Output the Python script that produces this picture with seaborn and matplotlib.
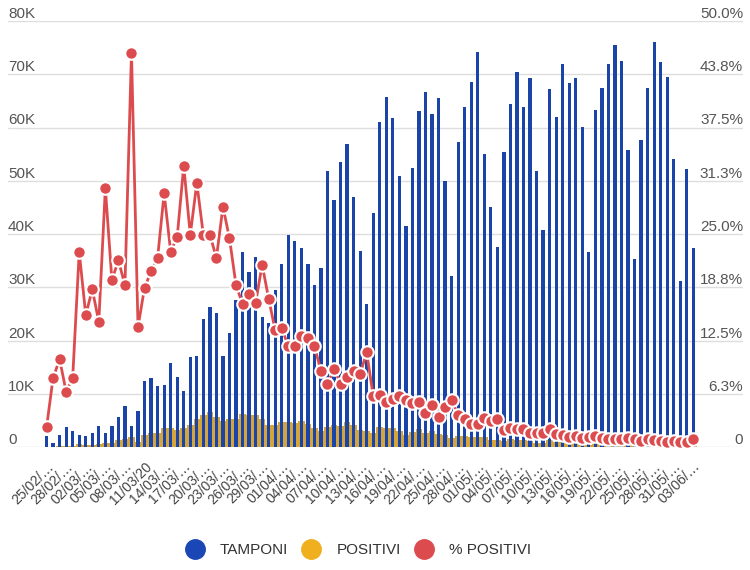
import numpy as np
import pandas as pd
import matplotlib.pyplot as plt
import seaborn as sns
from matplotlib.lines import Line2D

# Daily data, 25/02/2020 -> 03/06/2020
giorni = pd.date_range('2020-02-25', '2020-06-03', freq='D')

tamponi = [2120, 800, 2250, 3700, 3000, 2250, 2070, 2570, 3940, 2570,
           3940, 5570, 7700, 3940, 6760, 12450, 12900, 11460, 11640, 15700,
           13080, 10570, 16840, 17090, 23980, 26350, 25100, 17090, 21350, 27600,
           36680, 32920, 35620, 24470, 23350, 29480, 34370, 39810, 38690, 37430,
           34370, 30420, 33680, 51890, 46380, 53460, 56840, 46890, 36810, 26850,
           43880, 60970, 65790, 61720, 50890, 41500, 52330, 63160, 66730, 62480,
           65480, 49950, 32110, 57330, 63910, 68600, 74240, 55000, 45010, 37620,
           55340, 64350, 70480, 63910, 69360, 51890, 40750, 67170, 62030, 71920,
           68410, 69360, 60150, 36560, 63290, 67360, 71920, 75490, 72550, 55770,
           35300, 57650, 67360, 76110, 72360, 69540, 54080, 31230, 52210, 37430]

positivi = [93, 78, 250, 238, 240, 566, 342, 466, 587, 769,
            778, 1247, 1492, 1797, 977, 2313, 2651, 2547, 3497, 3590,
            3233, 3526, 4207, 5322, 5986, 6557, 5560, 4789, 5249, 5210,
            6153, 5959, 5974, 5217, 4050, 4053, 4782, 4668, 4585, 4805,
            4316, 3599, 3039, 3836, 4204, 3951, 4694, 4092, 3153, 2972,
            2667, 3786, 3493, 3491, 3047, 2256, 2729, 3370, 2646, 3021,
            2357, 2324, 1739, 2091, 2086, 1872, 1965, 1900, 1389, 1221,
            1075, 1444, 1401, 1327, 1083, 802, 744, 1402, 888, 992,
            789, 875, 675, 451, 813, 665, 642, 652, 669, 531,
            300, 397, 584, 593, 516, 416, 355, 178, 318, 321]

perc_positivi = [2.3, 8.1, 10.3, 6.5, 8.1, 22.9, 15.5, 18.5, 14.7, 30.4,
                 19.6, 21.9, 19.0, 46.3, 14.1, 18.7, 20.6, 22.2, 29.8, 22.9,
                 24.7, 33.0, 24.9, 31.0, 24.9, 24.9, 22.2, 28.2, 24.5, 19.0,
                 16.8, 18.0, 16.9, 21.4, 17.4, 13.7, 14.0, 11.8, 11.9, 13.0,
                 12.8, 11.9, 8.9, 7.4, 9.2, 7.4, 8.2, 8.9, 8.6, 11.1,
                 6.0, 6.1, 5.3, 5.6, 6.0, 5.5, 5.2, 5.3, 4.0, 4.9,
                 3.5, 4.7, 5.5, 3.8, 3.3, 2.7, 2.7, 3.4, 3.1, 3.3,
                 2.0, 2.2, 2.1, 2.1, 1.6, 1.6, 1.7, 2.1, 1.5, 1.4,
                 1.2, 1.3, 1.1, 1.2, 1.3, 1.0, 0.9, 0.9, 0.9, 1.0,
                 0.9, 0.7, 0.9, 0.8, 0.7, 0.6, 0.7, 0.6, 0.6, 0.9]

left_ticks = [0, 10000, 20000, 30000, 40000, 50000, 60000, 70000, 80000]
left_labels = ['0', '10K', '20K', '30K', '40K', '50K', '60K', '70K', '80K']
right_ticks = [0, 6.25, 12.5, 18.75, 25, 31.25, 37.5, 43.75, 50]
right_labels = ['0', '6.3%', '12.5%', '18.8%', '25.0%', '31.3%', '37.5%', '43.8%', '50.0%']

BLUE = '#1b44a8'
GOLD = '#d3a53c'
RED = '#dc4c4f'

sns.set_style('white')
plt.rcParams['font.family'] = ['Liberation Sans', 'DejaVu Sans']

df = pd.DataFrame({'giorno': np.arange(len(giorni)),
                   'TAMPONI': tamponi, 'POSITIVI': positivi})

fig = plt.figure(figsize=(7.5, 5.7), dpi=100)
ax = fig.add_axes([8 / 750, 123 / 570, 735 / 750, 426 / 570])

# positives drawn wide behind, tests narrow in front
sns.barplot(data=df, x='giorno', y='POSITIVI', color=GOLD, width=1.0,
            saturation=1, linewidth=0, ax=ax)
sns.barplot(data=df, x='giorno', y='TAMPONI', color=BLUE, width=0.5,
            saturation=1, linewidth=0, ax=ax)

ax2 = ax.twinx()
sns.lineplot(x=df['giorno'], y=perc_positivi, ax=ax2, color=RED, lw=2,
             marker='o', markersize=9, markerfacecolor=RED,
             markeredgecolor='white', markeredgewidth=1.5)

# axes ranges
ax.set_ylim(0, 80000)
ax2.set_ylim(0, 50)
ax.set_xlim(-5.9, 106.6)

# x labels every 3 days
xt = list(range(0, len(giorni), 3))
xl = []
for i in xt:
    if giorni[i].strftime('%d/%m') == '11/03':
        xl.append('11/03/20')
    else:
        xl.append(giorni[i].strftime('%d/%m/') + '…')
ax.set_xticks(xt)
ax.set_xticklabels(xl, rotation=45, ha='right', rotation_mode='anchor')
ax.tick_params(axis='x', length=0, pad=9, labelsize=10, labelcolor='#444444')
ax.set_xlabel('')
ax.set_ylabel('')
ax2.set_ylabel('')

# left axis labels inside, above gridlines
ax.set_yticks(left_ticks)
ax.set_yticklabels(left_labels)
ax.tick_params(axis='y', length=0, pad=0, labelsize=11, labelcolor='#555555')
for t in ax.get_yticklabels():
    t.set_ha('left')
    t.set_va('bottom')

ax2.set_yticks(right_ticks)
ax2.set_yticklabels(right_labels)
ax2.tick_params(axis='y', length=0, pad=0, labelsize=11, labelcolor='#555555')
for t in ax2.get_yticklabels():
    t.set_ha('right')
    t.set_va('bottom')

ax.grid(axis='y', color='#dedede', lw=1)
ax.set_axisbelow(True)
ax2.grid(False)
for a in (ax, ax2):
    for s in a.spines.values():
        s.set_visible(False)

handles = [Line2D([], [], ls='none', marker='o', markersize=14, color='#1a47b5'),
           Line2D([], [], ls='none', marker='o', markersize=14, color='#efaf1f'),
           Line2D([], [], ls='none', marker='o', markersize=14, color=RED)]
fig.legend(handles, ['TAMPONI', 'POSITIVI', '% POSITIVI'], loc='center',
           bbox_to_anchor=(0.479, 0.035), ncol=3, frameon=False, fontsize=11,
           handletextpad=1.15, columnspacing=1.0, handlelength=1.0,
           labelcolor='#333333')

fig.savefig('out.png', dpi=100, facecolor='white')
plt.close()
